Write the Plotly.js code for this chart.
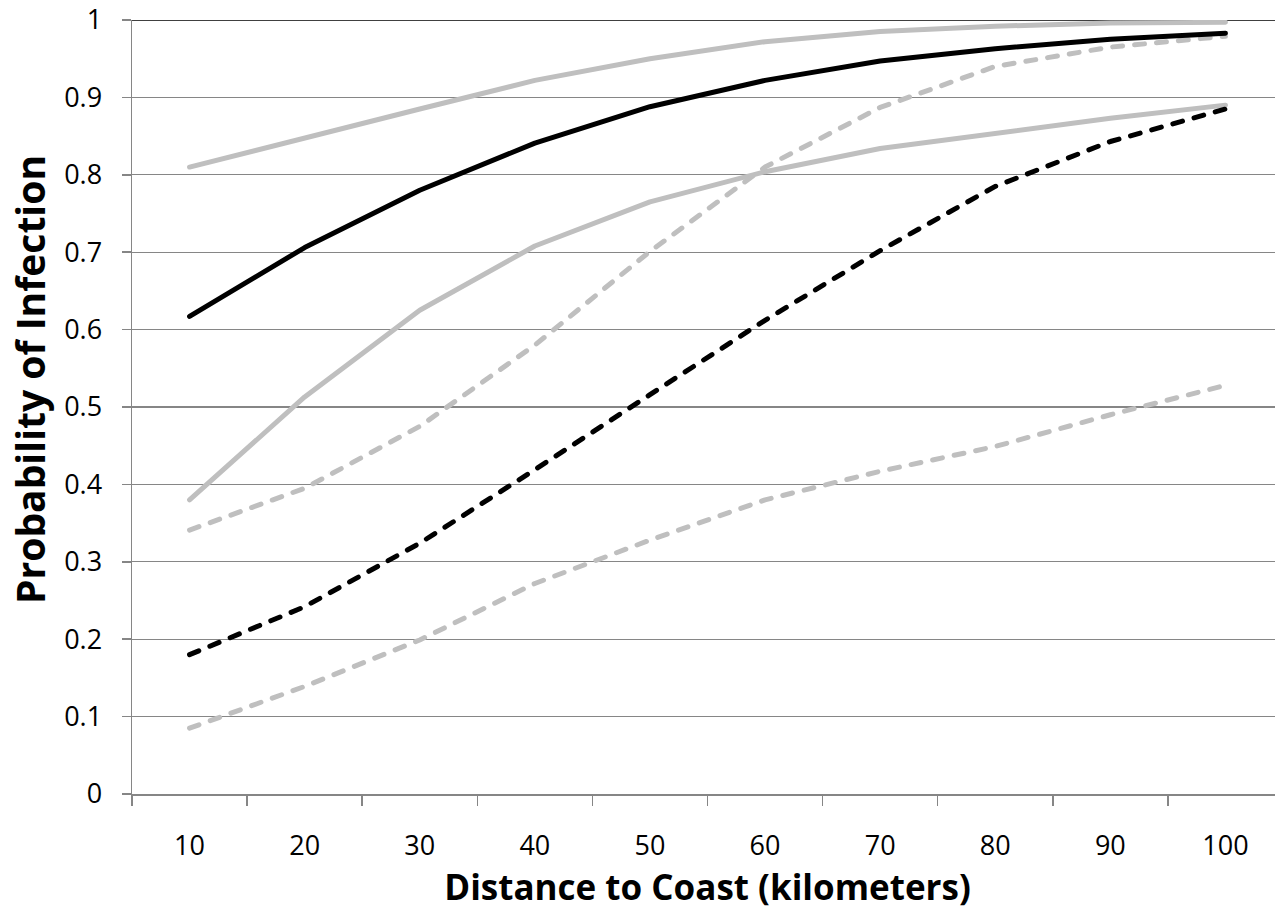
<!DOCTYPE html>
<html>
<head>
<meta charset="utf-8">
<script src="https://cdn.plot.ly/plotly-3.0.1.min.js"></script>
<style>
  html, body { margin: 0; padding: 0; background: #fff; overflow: hidden; }
  #chart { width: 1300px; height: 911px; }
  .js-line { stroke-linecap: round; stroke-linejoin: round; }
</style>
</head>
<body>
<div id="chart"></div>
<script>
// Distance to coast categories (km)
const distances = ["10", "20", "30", "40", "50", "60", "70", "80", "90", "100"];

// Probability of infection series
const blackSolid      = [0.617, 0.706, 0.780, 0.841, 0.888, 0.922, 0.947, 0.963, 0.975, 0.983];
const blackDashed     = [0.180, 0.242, 0.324, 0.419, 0.516, 0.612, 0.702, 0.785, 0.843, 0.885];
const grayUpperSolid  = [0.810, 0.848, 0.885, 0.922, 0.950, 0.972, 0.985, 0.992, 0.996, 0.997];
const grayLowerSolid  = [0.380, 0.513, 0.625, 0.708, 0.765, 0.804, 0.834, 0.854, 0.873, 0.890];
const grayUpperDashed = [0.341, 0.395, 0.475, 0.580, 0.701, 0.810, 0.887, 0.940, 0.965, 0.979];
const grayLowerDashed = [0.085, 0.139, 0.199, 0.272, 0.328, 0.380, 0.417, 0.449, 0.490, 0.528];

const yTickVals = [0, 0.1, 0.2, 0.3, 0.4, 0.5, 0.6, 0.7, 0.8, 0.9, 1];
const yTickText = ["0", "0.1", "0.2", "0.3", "0.4", "0.5", "0.6", "0.7", "0.8", "0.9", "1"];

const yTitle = "Probability of Infection";
const xTitle = "Distance to Coast (kilometers)";

const GRAY = "#BFBFBF";
const DASH = "10px,12px";
const W = 5;

function tr(y, color, dash) {
  return { type: "scatter", mode: "lines", x: distances, y: y,
           line: { color: color, width: W, dash: dash }, hoverinfo: "skip", showlegend: false };
}

const data = [
  tr(grayUpperSolid, GRAY, "solid"),
  tr(grayLowerSolid, GRAY, "solid"),
  tr(grayUpperDashed, GRAY, DASH),
  tr(grayLowerDashed, GRAY, DASH),
  tr(blackSolid, "#000000", "solid"),
  tr(blackDashed, "#000000", DASH)
];

const font = "Open Sans, Noto Sans, sans-serif";

const layout = {
  width: 1300, height: 911,
  margin: { l: 132, r: 16.5, t: 20, b: 117 },
  paper_bgcolor: "#fff", plot_bgcolor: "#fff",
  showlegend: false,
  font: { family: font, color: "#000" },
  xaxis: {
    type: "category",
    range: [-0.5, 9.5],
    tickson: "boundaries",
    ticks: "outside", ticklen: 10, tickwidth: 1.5, tickcolor: "#868686",
    showline: true, linecolor: "#868686", linewidth: 1.5,
    showgrid: false, zeroline: false,
    tickfont: { family: font, size: 27, color: "#000" },
    ticklabelstandoff: 27,
    title: { text: xTitle, standoff: 12,
             font: { family: font, size: 35, color: "#000", weight: "bold" } }
  },
  yaxis: {
    range: [0, 1],
    tickvals: yTickVals, ticktext: yTickText,
    ticks: "outside", ticklen: 9, tickwidth: 1.5, tickcolor: "#868686",
    showline: true, linecolor: "#868686", linewidth: 1.5,
    showgrid: true, gridcolor: "#868686", gridwidth: 1.3,
    zeroline: false,
    tickfont: { family: font, size: 27, color: "#000" },
    ticklabelstandoff: 14
  },
  annotations: [
    { text: yTitle, xref: "paper", yref: "paper", x: 0, y: 0.535,
      xanchor: "center", yanchor: "middle", xshift: -102, textangle: -90,
      showarrow: false,
      font: { family: font, size: 39, color: "#000", weight: "bold" } }
  ],
  shapes: [
    { type: "line", xref: "paper", yref: "y", x0: 0, x1: 1, y0: 1, y1: 1,
      line: { color: "#000", width: 1.5 }, layer: "below" }
  ]
};

Plotly.newPlot("chart", data, layout, { staticPlot: true, displayModeBar: false });
</script>
</body>
</html>
